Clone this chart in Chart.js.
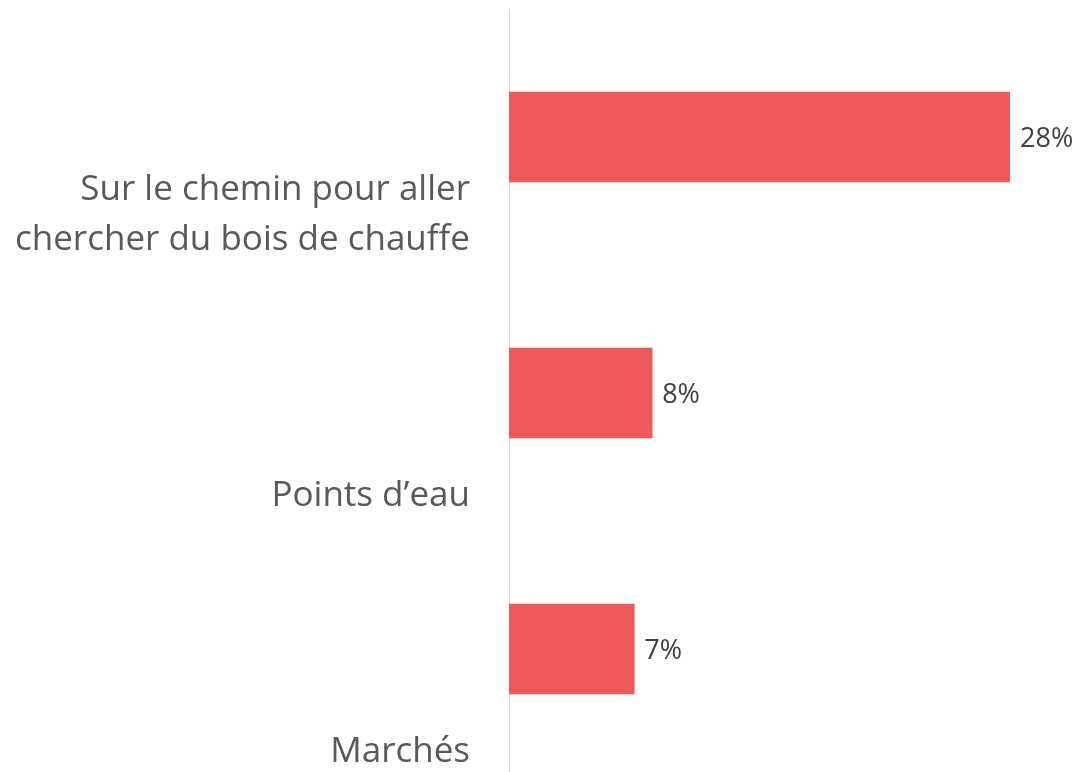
<!DOCTYPE html>
<html>
<head>
<meta charset="utf-8">
<script src="https://cdn.jsdelivr.net/npm/chart.js@4.4.1/dist/chart.umd.min.js"></script>
<style>
  html, body { margin: 0; padding: 0; background: #fff; overflow: hidden; }
  #wrap { width: 1081px; height: 777px; }
</style>
</head>
<body>
<div id="wrap"><canvas id="barChart"></canvas></div>
<script>
// categories and values //
const categories = [
    ['Sur le chemin pour aller', 'chercher du bois de chauffe'],
    ['Points d\u2019eau'],
    ['Marchés']
];
const values = [28, 8, 7];
const valueLabels = ['28%', '8%', '7%'];

const barColor = '#EE5A5A';
const labelFont = '"Open Sans", "Noto Sans", sans-serif';

// draws the value at the end of each bar and the category text under it
const labelPlugin = {
    id: 'labelPlugin',
    afterDatasetsDraw(chart) {
        const ctx = chart.ctx;
        const meta = chart.getDatasetMeta(0);
        const yScale = chart.scales.y;
        ctx.save();

        ctx.font = '27px ' + labelFont;
        ctx.fillStyle = '#404040';
        ctx.textAlign = 'left';
        ctx.textBaseline = 'middle';
        meta.data.forEach((bar, i) => {
            ctx.fillText(valueLabels[i], bar.x + 10, bar.y + 2);
        });

        ctx.font = '35px ' + labelFont;
        ctx.fillStyle = '#595959';
        ctx.textAlign = 'right';
        categories.forEach((lines, i) => {
            const baseY = yScale.getPixelForValue(i) + 103;
            lines.forEach((line, j) => {
                const y = baseY - (lines.length - 1 - j) * 50;
                ctx.fillText(line, 470, y);
            });
        });
        ctx.restore();
    }
};

const ctxBar = document.getElementById('barChart').getContext('2d');
const barChart = new Chart(ctxBar, {
    type: 'bar',
    data: {
        labels: categories,
        datasets: [{
            data: values,
            backgroundColor: barColor,
            borderWidth: 0,
            barThickness: 90
        }]
    },
    options: {
        indexAxis: 'y',
        responsive: true,
        maintainAspectRatio: false,
        animation: false,
        layout: {
            padding: { top: 9, right: 71, bottom: 0, left: 0 }
        },
        plugins: {
            legend: { display: false },
            tooltip: { enabled: false }
        },
        scales: {
            x: {
                display: false,
                min: 0,
                max: 28
            },
            y: {
                grid: { display: false },
                border: { color: '#D9D9D9', width: 1 },
                ticks: { display: false },
                afterFit: function (scale) {
                    scale.width = 509;
                }
            }
        }
    },
    plugins: [labelPlugin]
});
</script>
</body>
</html>
